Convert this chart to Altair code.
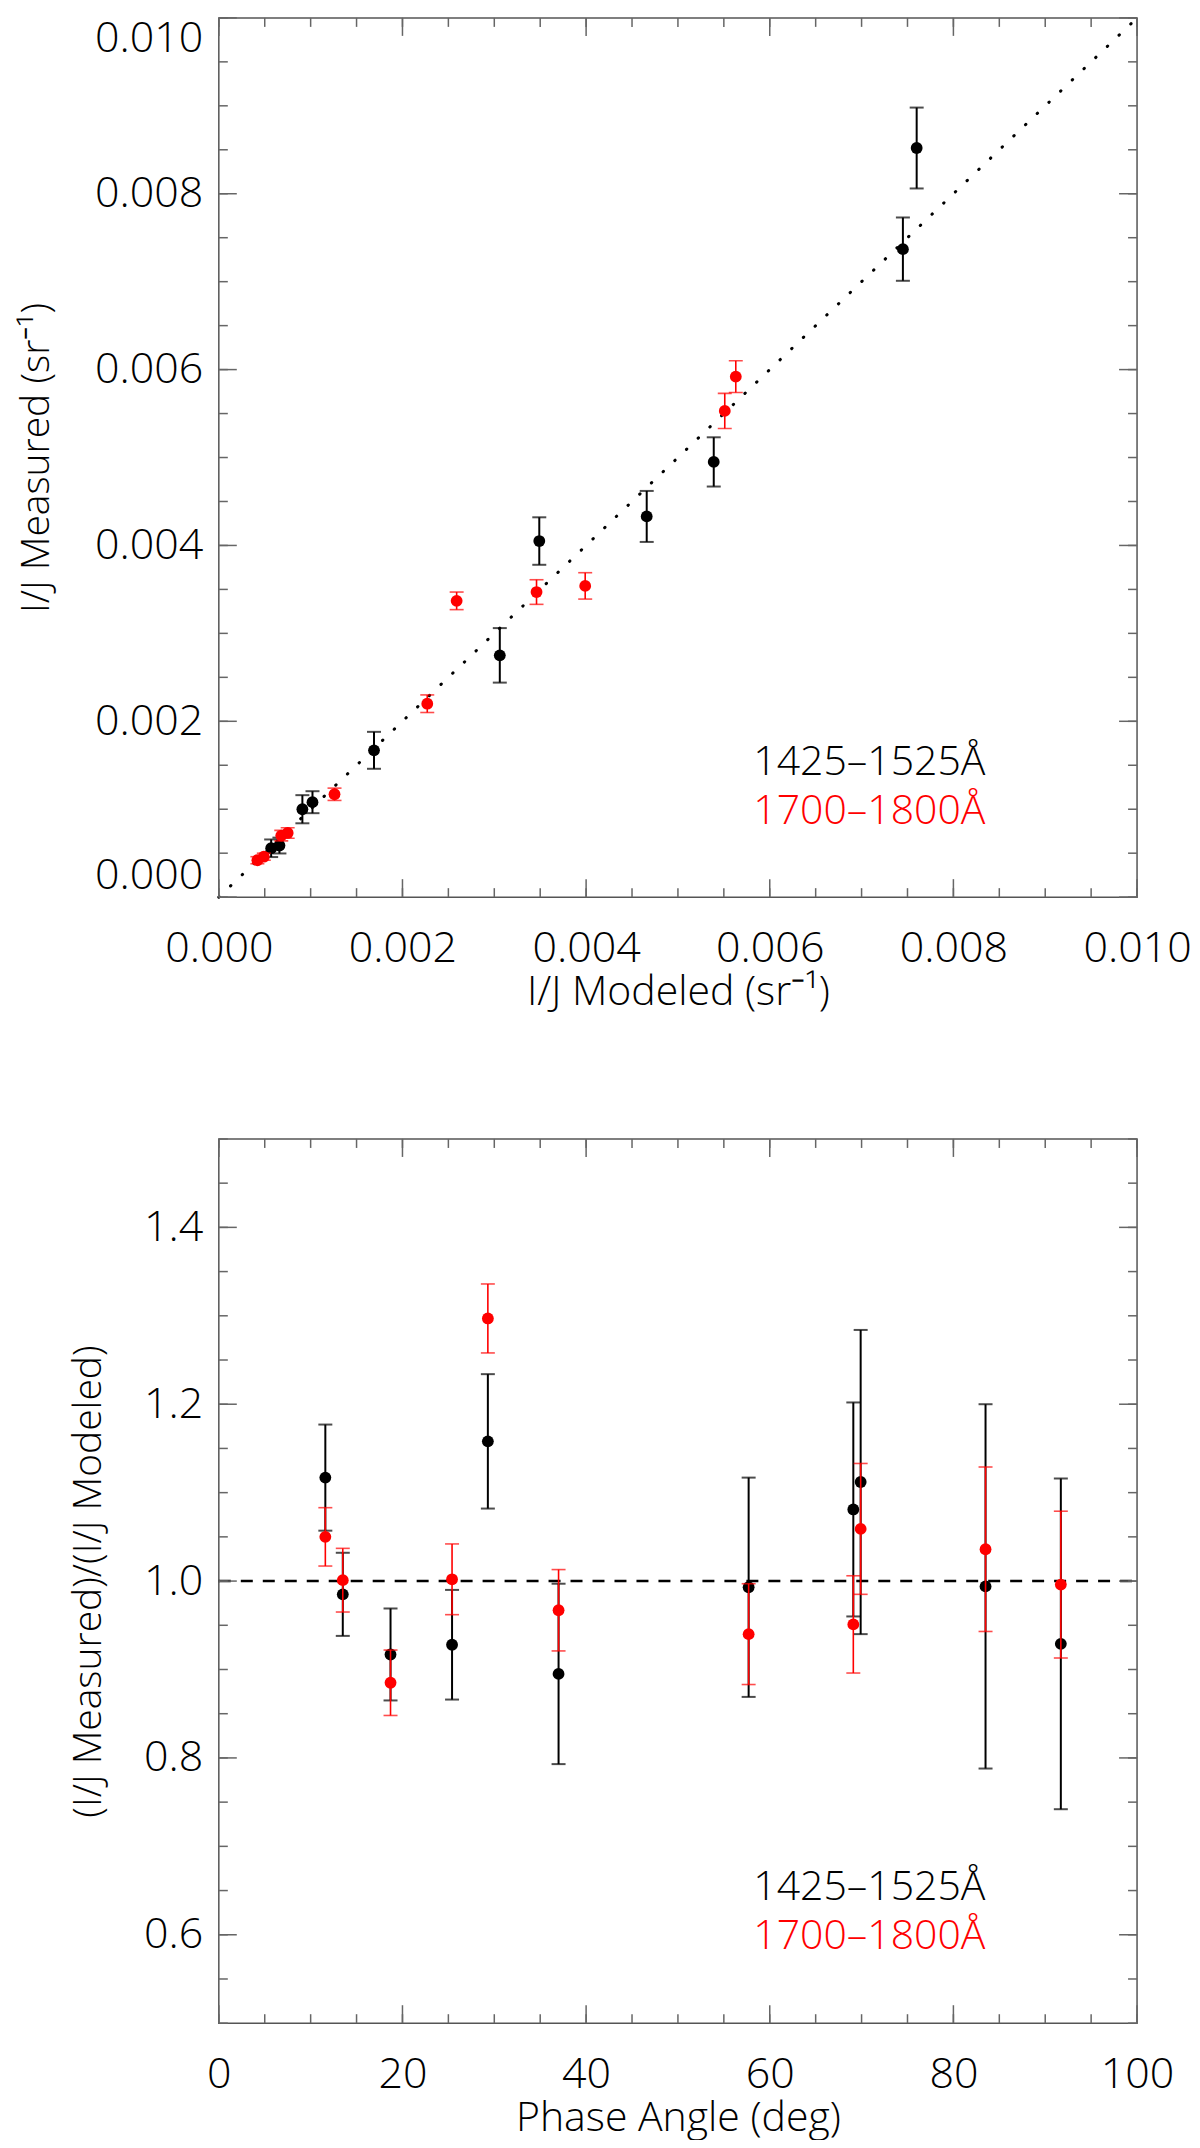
import altair as alt
import pandas as pd

# --- data ---------------------------------------------------------------
SERIES = ["1425–1525Å", "1700–1800Å"]
COLORS = ["#000000", "#ff0000"]

# top panel: I/J modeled vs measured (sr^-1)
B_MOD = [0.00057, 0.00066, 0.00091, 0.00102, 0.00169, 0.00306, 0.00349, 0.00466, 0.00539, 0.00745, 0.00760]
B_MEAS = [0.000556, 0.000587, 0.00100, 0.00108, 0.00167, 0.00275, 0.00405, 0.00433, 0.00495, 0.00737, 0.00852]
B_ERR = [0.00010, 0.00009, 0.00016, 0.000125, 0.00021, 0.00031, 0.00027, 0.00029, 0.00028, 0.00036, 0.00046]

R_MOD = [0.00042, 0.00049, 0.00068, 0.00075, 0.00126, 0.00227, 0.00259, 0.00346, 0.00399, 0.00551, 0.00563]
R_MEAS = [0.00042, 0.00046, 0.00070, 0.00073, 0.00117, 0.00220, 0.00337, 0.00347, 0.00354, 0.00553, 0.00592]
R_ERR = [0.00004, 0.00004, 0.00006, 0.00006, 0.00007, 0.00010, 0.00010, 0.00014, 0.00015, 0.00020, 0.00018]

# bottom panel: ratio vs phase angle (deg)
PHASE = [11.6, 13.5, 18.7, 25.4, 29.3, 37.0, 57.7, 69.1, 69.9, 83.5, 91.7]
B_RATIO = [1.117, 0.985, 0.917, 0.928, 1.158, 0.895, 0.993, 1.081, 1.112, 0.994, 0.929]
B_RERR = [0.060, 0.047, 0.052, 0.062, 0.076, 0.102, 0.124, 0.121, 0.172, 0.206, 0.187]
R_RATIO = [1.050, 1.001, 0.885, 1.002, 1.297, 0.967, 0.940, 0.951, 1.059, 1.036, 0.996]
R_RERR = [0.033, 0.036, 0.037, 0.040, 0.039, 0.046, 0.057, 0.055, 0.074, 0.093, 0.083]

# axis limits and ticks
TOP_LIM = [0.0, 0.010]
TOP_MAJOR = [0.0, 0.002, 0.004, 0.006, 0.008, 0.010]
TOP_MINOR = [round(i * 0.0005, 4) for i in range(21)]
BOT_XLIM = [0, 100]
BOT_YLIM = [0.5, 1.5]
BOT_XMAJOR = [0, 20, 40, 60, 80, 100]
BOT_XMINOR = list(range(0, 101, 5))
BOT_YMAJOR = [0.6, 0.8, 1.0, 1.2, 1.4]
BOT_YMINOR = [round(0.5 + i * 0.05, 2) for i in range(21)]
REF_RATIO = 1.0

FONT = "Open Sans"
WEIGHT = 300
W = 919
H_TOP = 880
H_BOT = 885
MAJOR_LEN, MINOR_LEN = 18, 9
TICK_COLOR = "#666666"


def tick_layers(xs, ys, xe, ye, height):
    """Inward ticks on all four edges of the frame."""
    layers = []
    for (xv, yv, length) in [(xs[0], ys[0], MAJOR_LEN), (xs[1], ys[1], MINOR_LEN)]:
        xdf = pd.DataFrame({"x": xv})
        ydf = pd.DataFrame({"y": yv})
        rule = dict(color=TICK_COLOR, strokeWidth=1.5)
        layers += [
            alt.Chart(xdf).mark_rule(**rule).encode(x=xe, y=alt.value(height), y2=alt.value(height - length)),
            alt.Chart(xdf).mark_rule(**rule).encode(x=xe, y=alt.value(0), y2=alt.value(length)),
            alt.Chart(ydf).mark_rule(**rule).encode(y=ye, x=alt.value(0), x2=alt.value(length)),
            alt.Chart(ydf).mark_rule(**rule).encode(y=ye, x=alt.value(W), x2=alt.value(W - length)),
        ]
    return layers


def series_layers(x, y, err, xe, ye, color, width, label, label_y):
    pts = pd.DataFrame({"x": x, "y": y})
    lo = [v - e for v, e in zip(y, err)]
    hi = [v + e for v, e in zip(y, err)]
    bars_df = pd.DataFrame({"x": x, "y": lo, "hi": hi})
    caps_df = pd.DataFrame({"x": list(x) + list(x), "y": lo + hi})
    bars = alt.Chart(bars_df).mark_rule(color=color, strokeWidth=width).encode(
        x=xe, y=ye, y2="hi:Q",
    )
    caps = alt.Chart(caps_df).mark_tick(color=color, orient="horizontal", size=14, thickness=width).encode(
        x=xe, y=ye,
    )
    dots = alt.Chart(pts).mark_circle(color=color, size=140, opacity=1).encode(x=xe, y=ye)
    text = alt.Chart(pd.DataFrame({"t": [label]})).mark_text(
        align="left", baseline="alphabetic", font=FONT, fontWeight=WEIGHT, fontSize=41, color=color
    ).encode(text="t:N", x=alt.value(535), y=alt.value(label_y))
    return [bars, caps, dots, text]


# --- top panel -----------------------------------------------------------
tx = alt.X("x:Q", scale=alt.Scale(domain=TOP_LIM, zero=False, nice=False), axis=alt.Axis(
    values=TOP_MAJOR, format=".3f", labelFlush=False, labelPadding=30,
    title="I/J Modeled (sr⁻¹)", titlePadding=2, titleFontSize=41))
ty = alt.Y("y:Q", scale=alt.Scale(domain=TOP_LIM, zero=False, nice=False), axis=alt.Axis(
    values=TOP_MAJOR, format=".3f", labelFlush=True, labelPadding=16,
    title="I/J Measured (sr⁻¹)", titlePadding=38))

one_to_one = alt.Chart(pd.DataFrame({"x": TOP_LIM, "y": TOP_LIM})).mark_line(
    color="black", strokeWidth=3, strokeDash=[0.5, 15.7], strokeCap="round"
).encode(x=tx, y=ty)

top_layers = [one_to_one] + tick_layers((TOP_MAJOR, TOP_MINOR), (TOP_MAJOR, TOP_MINOR), tx, ty, H_TOP)
top_layers += series_layers(B_MOD, B_MEAS, B_ERR, tx, ty, COLORS[0], 2, SERIES[0], 758)
top_layers += series_layers(R_MOD, R_MEAS, R_ERR, tx, ty, COLORS[1], 1.6, SERIES[1], 807)
top = alt.layer(*top_layers).properties(width=W, height=H_TOP)

# --- bottom panel --------------------------------------------------------
bx = alt.X("x:Q", scale=alt.Scale(domain=BOT_XLIM, zero=False, nice=False), axis=alt.Axis(
    values=BOT_XMAJOR, format="d", labelFlush=False, labelPadding=30,
    title="Phase Angle (deg)", titlePadding=2, titleFontSize=41))
by = alt.Y("y:Q", scale=alt.Scale(domain=BOT_YLIM, zero=False, nice=False), axis=alt.Axis(
    values=BOT_YMAJOR, format=".1f", labelFlush=False, labelPadding=16,
    title="(I/J Measured)/(I/J Modeled)", titlePadding=35))

unity = alt.Chart(pd.DataFrame({"x": BOT_XLIM, "y": [REF_RATIO, REF_RATIO]})).mark_line(
    color="black", strokeWidth=2.5, strokeDash=[12, 10]
).encode(x=bx, y=by)

bot_layers = [unity] + tick_layers((BOT_XMAJOR, BOT_XMINOR), (BOT_YMAJOR, BOT_YMINOR), bx, by, H_BOT)
bot_layers += series_layers(PHASE, B_RATIO, B_RERR, bx, by, COLORS[0], 2, SERIES[0], 762)
bot_layers += series_layers(PHASE, R_RATIO, R_RERR, bx, by, COLORS[1], 1.6, SERIES[1], 811)
bottom = alt.layer(*bot_layers).properties(width=W, height=H_BOT)

chart = (
    alt.vconcat(top, bottom, spacing=242, bounds="flush")
    .properties(padding={"left": 8, "top": 2, "right": 0, "bottom": 0})
    .configure_view(stroke="#555555", strokeWidth=1.5)
    .configure_axis(
        ticks=False, domain=False, grid=False, labelOverlap=False,
        labelFont=FONT, titleFont=FONT, labelFontSize=43, titleFontSize=39,
        labelFontWeight=WEIGHT, titleFontWeight=WEIGHT,
        labelColor="black", titleColor="black",
    )
)

chart.save("out.html", embed_options={"renderer": "svg", "actions": False})
